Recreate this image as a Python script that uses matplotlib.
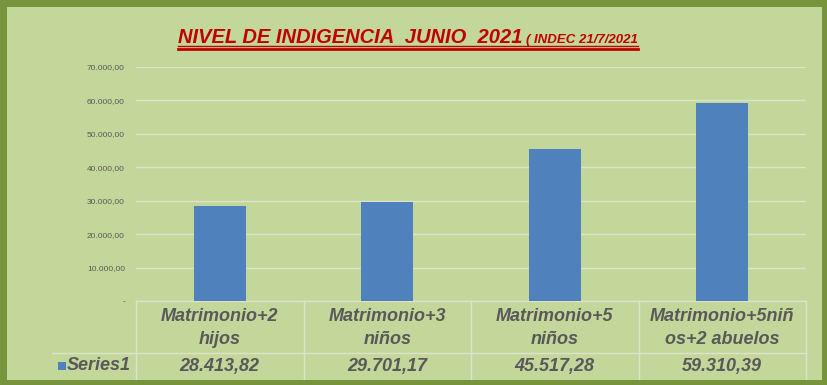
import matplotlib.pyplot as plt
from matplotlib.patches import Rectangle
from matplotlib.lines import Line2D

# Data
categories = ['Matrimonio+2\nhijos', 'Matrimonio+3\nniños', 'Matrimonio+5\nniños', 'Matrimonio+5niñ\nos+2 abuelos']
values = [28413.82, 29701.17, 45517.28, 59310.39]
value_labels = ['28.413,82', '29.701,17', '45.517,28', '59.310,39']
yticks = [0, 10000, 20000, 30000, 40000, 50000, 60000, 70000]
ytick_labels = ['-', '10.000,00', '20.000,00', '30.000,00', '40.000,00', '50.000,00', '60.000,00', '70.000,00']
series_name = 'Series1'

BG = '#C4D79B'
BORDER = '#77933C'
BAR = '#4F81BD'
GRID = '#DCE3CC'
TXT = '#595959'
RED = '#C00000'

plt.rcParams['font.family'] = ['Liberation Sans', 'DejaVu Sans']

W, H = 827, 385
fig = plt.figure(figsize=(W / 100, H / 100), dpi=100, facecolor=BG)


def fx(px):
    return px / W


def fy(py):
    return 1 - py / H


# outer frame
fig.patches.append(Rectangle((fx(2.5), fy(382.5)), fx(822), 380 / H, transform=fig.transFigure,
                             fill=False, edgecolor=BORDER, linewidth=5))

ax = fig.add_axes([fx(136), fy(301), fx(806 - 136), (301 - 67) / H])
ax.set_facecolor(BG)
x = list(range(len(categories)))
ax.bar(x, values, width=0.31, color=BAR, zorder=3)
ax.set_xlim(-0.5, len(categories) - 0.5)
ax.set_ylim(0, 70000)
ax.set_yticks(yticks)
ax.set_yticklabels(ytick_labels, fontsize=6, color=TXT)
ax.tick_params(axis='y', length=0, pad=8)
ax.set_xticks([])
ax.grid(axis='y', color=GRID, linewidth=1, zorder=0)
for s in ax.spines.values():
    s.set_visible(False)

# data table under the axis
tr = ax.get_xaxis_transform()
row1 = -0.222
row2 = -0.34
for i in range(len(categories) + 1):
    ax.add_line(Line2D([i - 0.5, i - 0.5], [0, row2], transform=tr, color=GRID, lw=1, clip_on=False))
ax.add_line(Line2D([-0.5, len(categories) - 0.5], [0, 0], transform=tr, color=GRID, lw=1, clip_on=False))
ax.add_line(Line2D([-1.0, len(categories) - 0.5], [row1, row1], transform=tr, color=GRID, lw=1, clip_on=False))
for i, (c, v) in enumerate(zip(categories, value_labels)):
    ax.text(i, row1 / 2 - 0.005, c, transform=tr, ha='center', va='center', fontsize=13,
            fontweight='bold', fontstyle='italic', color=TXT, linespacing=1.45)
    ax.text(i, (row1 + row2) / 2, v, transform=tr, ha='center', va='center', fontsize=13,
            fontweight='bold', fontstyle='italic', color=TXT)

fig.patches.append(Rectangle((fx(58), fy(370)), fx(8), 8 / H, transform=fig.transFigure,
                             facecolor=BAR, edgecolor='none'))
fig.text(fx(67), fy(366), series_name, ha='left', va='center', fontsize=13,
         fontweight='bold', fontstyle='italic', color=TXT)

# title with underline
t1 = fig.text(fx(178), fy(43), 'NIVEL DE INDIGENCIA  JUNIO  2021', ha='left', va='baseline',
              fontsize=14.5, fontweight='bold', fontstyle='italic', color=RED)
fig.canvas.draw()
r = fig.canvas.get_renderer()
bb1 = t1.get_window_extent(r)
t2 = fig.text(bb1.x1 / W + fx(4), fy(43), '( INDEC 21/7/2021', ha='left', va='baseline',
              fontsize=9.5, fontweight='bold', fontstyle='italic', color=RED)
fig.canvas.draw()
bb2 = t2.get_window_extent(r)
for yy, lw in [(fy(45.5), 1.0), (fy(49), 2.0)]:
    fig.lines.append(Line2D([bb1.x0 / W, bb2.x1 / W], [yy, yy], transform=fig.transFigure,
                            color=RED, lw=lw))

fig.savefig('out.png', dpi=100, facecolor=BG)
